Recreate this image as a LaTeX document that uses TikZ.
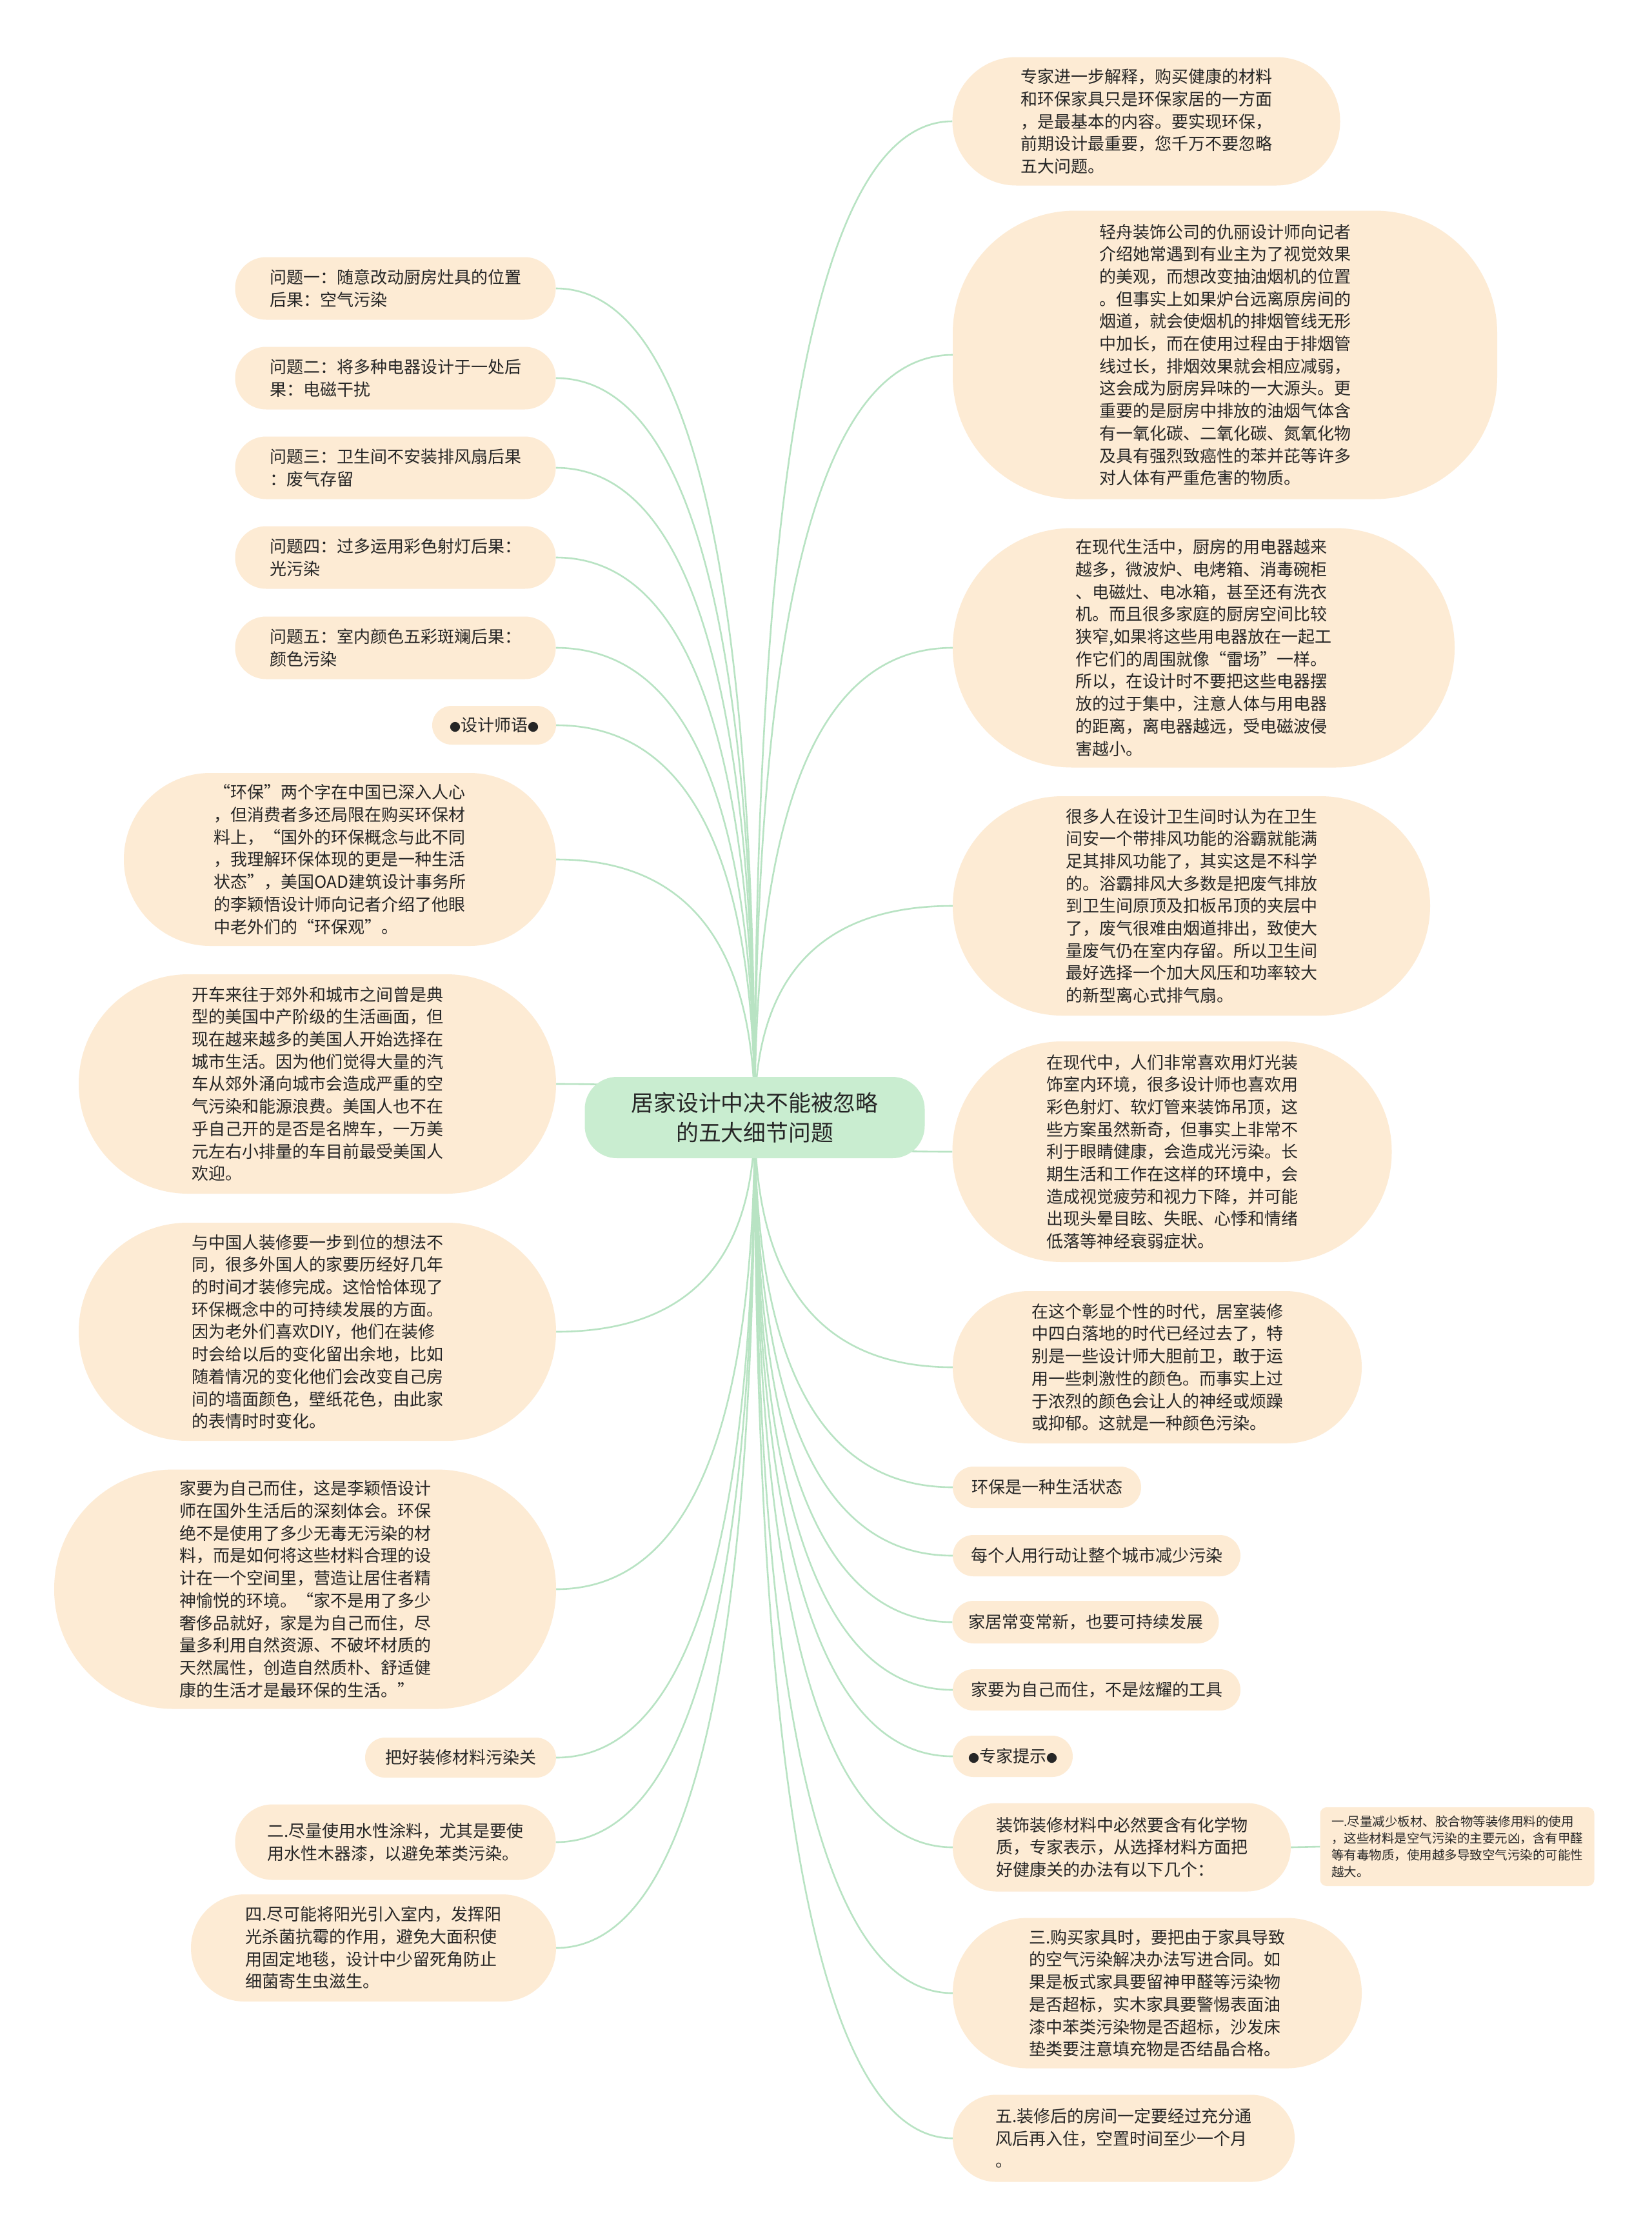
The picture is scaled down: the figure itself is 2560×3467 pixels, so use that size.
\documentclass[tikz,border=0pt]{standalone}
\usepackage{fontspec}
\newfontfamily\cjk{Noto Sans CJK SC}
\usetikzlibrary{backgrounds,calc}
\definecolor{peach}{HTML}{FDEBD4}
\definecolor{rootfill}{HTML}{C9EDD0}
\definecolor{linkc}{HTML}{B8E3C3}
\definecolor{txt}{HTML}{262626}
\newcommand\mmlink[2]{\draw[conn] (root.center) .. controls ($(root.center)!0.667!(root.center |- #1.#2)$) and ($(#1.#2)!0.667!(root.center |- #1.#2)$) .. (#1.#2);}
\newcommand\smbul{{\fontsize{17}{17}\selectfont ●}}
\begin{document}
\begin{tikzpicture}[x=1pt,y=-1pt,
  bx/.style={rectangle, fill=peach, inner sep=0pt, align=left, text=txt, font=\cjk\fontsize{26}{34.7}\selectfont},
  small/.style={rectangle, fill=peach, inner sep=0pt, align=left, text=txt, font=\cjk\fontsize{19.5}{26}\selectfont},
  rootbox/.style={rectangle, fill=rootfill, inner sep=0pt, align=center, text=txt, font=\cjk\fontsize{34.8}{46.4}\selectfont},
  conn/.style={draw=linkc, line width=2.6pt}]
\useasboundingbox (0,0) rectangle (2560,3467);

% root
\node[rootbox, minimum width=527, minimum height=126, rounded corners=50] (root) at (1170,1732) {居家设计中决不能被忽略\\的五大细节问题};

% right side
\node[bx, minimum width=601, minimum height=199, rounded corners=99] (r1) at (1777,188) {专家进一步解释，购买健康的材料\\和环保家具只是环保家居的一方面\\，是最基本的内容。要实现环保，\\前期设计最重要，您千万不要忽略\\五大问题。};
\node[bx, minimum width=844, minimum height=447, rounded corners=190] (r2) at (1899,550) {轻舟装饰公司的仇丽设计师向记者\\介绍她常遇到有业主为了视觉效果\\的美观，而想改变抽油烟机的位置\\。但事实上如果炉台远离原房间的\\烟道，就会使烟机的排烟管线无形\\中加长，而在使用过程由于排烟管\\线过长，排烟效果就会相应减弱，\\这会成为厨房异味的一大源头。更\\重要的是厨房中排放的油烟气体含\\有一氧化碳、二氧化碳、氮氧化物\\及具有强烈致癌性的苯并芘等许多\\对人体有严重危害的物质。};
\node[bx, minimum width=778, minimum height=371, rounded corners=185] (r3) at (1866,1004) {在现代生活中，厨房的用电器越来\\越多，微波炉、电烤箱、消毒碗柜\\、电磁灶、电冰箱，甚至还有洗衣\\机。而且很多家庭的厨房空间比较\\狭窄,如果将这些用电器放在一起工\\作它们的周围就像“雷场”一样。\\所以，在设计时不要把这些电器摆\\放的过于集中，注意人体与用电器\\的距离，离电器越远，受电磁波侵\\害越小。};
\node[bx, minimum width=740, minimum height=340, rounded corners=170] (r4) at (1847,1404) {很多人在设计卫生间时认为在卫生\\间安一个带排风功能的浴霸就能满\\足其排风功能了，其实这是不科学\\的。浴霸排风大多数是把废气排放\\到卫生间原顶及扣板吊顶的夹层中\\了，废气很难由烟道排出，致使大\\量废气仍在室内存留。所以卫生间\\最好选择一个加大风压和功率较大\\的新型离心式排气扇。};
\node[bx, minimum width=681, minimum height=342, rounded corners=170] (r5) at (1817,1785) {在现代中，人们非常喜欢用灯光装\\饰室内环境，很多设计师也喜欢用\\彩色射灯、软灯管来装饰吊顶，这\\些方案虽然新奇，但事实上非常不\\利于眼睛健康，会造成光污染。长\\期生活和工作在这样的环境中，会\\造成视觉疲劳和视力下降，并可能\\出现头晕目眩、失眠、心悸和情绪\\低落等神经衰弱症状。};
\node[bx, minimum width=634, minimum height=236, rounded corners=118] (r6) at (1794,2119) {在这个彰显个性的时代，居室装修\\中四白落地的时代已经过去了，特\\别是一些设计师大胆前卫，敢于运\\用一些刺激性的颜色。而事实上过\\于浓烈的颜色会让人的神经或烦躁\\或抑郁。这就是一种颜色污染。};
\node[bx, minimum width=292, minimum height=64, rounded corners=32] (r7) at (1623,2305) {环保是一种生活状态};
\node[bx, minimum width=446, minimum height=64, rounded corners=32] (r8) at (1700,2411) {每个人用行动让整个城市减少污染};
\node[bx, minimum width=413, minimum height=66, rounded corners=33] (r9) at (1683,2514) {家居常变常新，也要可持续发展};
\node[bx, minimum width=446, minimum height=64, rounded corners=32] (r10) at (1700,2619) {家要为自己而住，不是炫耀的工具};
\node[bx, minimum width=186, minimum height=64, rounded corners=32] (r11) at (1570,2722) {\smbul 专家提示\smbul};
\node[bx, minimum width=524, minimum height=137, rounded corners=68] (r12) at (1739,2863) {装饰装修材料中必然要含有化学物\\质，专家表示，从选择材料方面把\\好健康关的办法有以下几个：};
\node[small, minimum width=425, minimum height=122, rounded corners=10] (r12c) at (2259,2862) {一.尽量减少板材、胶合物等装修用料的使用\\，这些材料是空气污染的主要元凶，含有甲醛\\等有毒物质，使用越多导致空气污染的可能性\\越大。};
\node[bx, minimum width=634, minimum height=233, rounded corners=116] (r13) at (1794,3089) {三.购买家具时，要把由于家具导致\\的空气污染解决办法写进合同。如\\果是板式家具要留神甲醛等污染物\\是否超标，实木家具要警惕表面油\\漆中苯类污染物是否超标，沙发床\\垫类要注意填充物是否结晶合格。};
\node[bx, minimum width=530, minimum height=135, rounded corners=67] (r14) at (1742,3314) {五.装修后的房间一定要经过充分通\\风后再入住，空置时间至少一个月\\。};

% left side
\node[bx, minimum width=497, minimum height=97, rounded corners=48] (l1) at (613,447) {问题一：随意改动厨房灶具的位置\\后果：空气污染};
\node[bx, minimum width=497, minimum height=97, rounded corners=48] (l2) at (613,586) {问题二：将多种电器设计于一处后\\果：电磁干扰};
\node[bx, minimum width=497, minimum height=97, rounded corners=48] (l3) at (613,725) {问题三：卫生间不安装排风扇后果\\：废气存留};
\node[bx, minimum width=497, minimum height=97, rounded corners=48] (l4) at (613,864) {问题四：过多运用彩色射灯后果：\\光污染};
\node[bx, minimum width=497, minimum height=97, rounded corners=48] (l5) at (613,1004) {问题五：室内颜色五彩斑斓后果：\\颜色污染};
\node[bx, minimum width=192, minimum height=60, rounded corners=30] (l6) at (766,1124) {\smbul 设计师语\smbul};
\node[bx, minimum width=670, minimum height=268, rounded corners=134] (l7) at (527,1332) {“环保”两个字在中国已深入人心\\，但消费者多还局限在购买环保材\\料上，“国外的环保概念与此不同\\，我理解环保体现的更是一种生活\\状态”，美国OAD建筑设计事务所\\的李颖悟设计师向记者介绍了他眼\\中老外们的“环保观”。};
\node[bx, minimum width=740, minimum height=340, rounded corners=170] (l8) at (492,1680) {开车来往于郊外和城市之间曾是典\\型的美国中产阶级的生活画面，但\\现在越来越多的美国人开始选择在\\城市生活。因为他们觉得大量的汽\\车从郊外涌向城市会造成严重的空\\气污染和能源浪费。美国人也不在\\乎自己开的是否是名牌车，一万美\\元左右小排量的车目前最受美国人\\欢迎。};
\node[bx, minimum width=740, minimum height=338, rounded corners=169] (l9) at (492,2064) {与中国人装修要一步到位的想法不\\同，很多外国人的家要历经好几年\\的时间才装修完成。这恰恰体现了\\环保概念中的可持续发展的方面。\\因为老外们喜欢DIY，他们在装修\\时会给以后的变化留出余地，比如\\随着情况的变化他们会改变自己房\\间的墙面颜色，壁纸花色，由此家\\的表情时时变化。};
\node[bx, minimum width=778, minimum height=371, rounded corners=185] (l10) at (473,2463) {家要为自己而住，这是李颖悟设计\\师在国外生活后的深刻体会。环保\\绝不是使用了多少无毒无污染的材\\料，而是如何将这些材料合理的设\\计在一个空间里，营造让居住者精\\神愉悦的环境。“家不是用了多少\\奢侈品就好，家是为自己而住，尽\\量多利用自然资源、不破坏材质的\\天然属性，创造自然质朴、舒适健\\康的生活才是最环保的生活。”};
\node[bx, minimum width=296, minimum height=62, rounded corners=31] (l11) at (714,2724) {把好装修材料污染关};
\node[bx, minimum width=497, minimum height=117, rounded corners=58] (l12) at (613,2855) {二.尽量使用水性涂料，尤其是要使\\用水性木器漆，以避免苯类污染。};
\node[bx, minimum width=566, minimum height=166, rounded corners=83] (l13) at (579,3019) {四.尽可能将阳光引入室内，发挥阳\\光杀菌抗霉的作用，避免大面积使\\用固定地毯，设计中少留死角防止\\细菌寄生虫滋生。};

\begin{pgfonlayer}{background}
\fill[white] (0,0) rectangle (2560,3467);
\foreach \n in {r1,r2,r3,r4,r5,r6,r7,r8,r9,r10,r11,r12,r13,r14}{\mmlink{\n}{west}}
\foreach \n in {l1,l2,l3,l4,l5,l6,l7,l8,l9,l10,l11,l12,l13}{\mmlink{\n}{east}}
\draw[conn] (r12.east) -- (r12c.west);
\end{pgfonlayer}
\end{tikzpicture}
\end{document}
